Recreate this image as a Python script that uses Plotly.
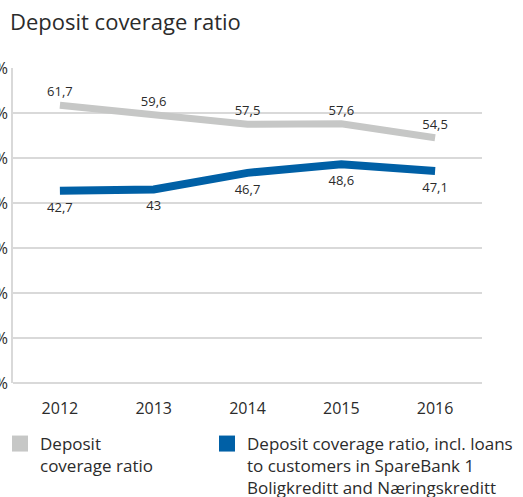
import plotly.graph_objects as go

years = ["2012", "2013", "2014", "2015", "2016"]
deposit_ratio = [61.7, 59.6, 57.5, 57.6, 54.5]
deposit_ratio_incl = [42.7, 43.0, 46.7, 48.6, 47.1]
name_a = "Deposit<br>coverage ratio"
name_b = "Deposit coverage ratio, incl. loans<br>to customers in SpareBank 1<br>Boligkreditt and Næringskreditt"

GRAY = "#c6c7c6"
BLUE = "#0060a6"
TXT = "#2b2b2b"
FONT = "Open Sans"

def fmt(v):
    s = ("%.1f" % v).rstrip("0").rstrip(".")
    return s.replace(".", ",")

fig = go.Figure()
fig.add_trace(go.Scatter(
    x=years, y=deposit_ratio, mode="lines+markers+text",
    line=dict(color=GRAY, width=7),
    marker=dict(size=8, color=GRAY, opacity=0),
    text=[fmt(v) for v in deposit_ratio], textposition="top center",
    textfont=dict(size=13, color=TXT, family=FONT),
    showlegend=False, hoverinfo="skip"))
fig.add_trace(go.Scatter(
    x=years, y=deposit_ratio_incl, mode="lines+markers+text",
    line=dict(color=BLUE, width=8),
    marker=dict(size=16, color=BLUE, opacity=0),
    text=[fmt(v) for v in deposit_ratio_incl], textposition="bottom center",
    textfont=dict(size=13, color=TXT, family=FONT),
    showlegend=False, hoverinfo="skip"))
# legend entries (square swatches)
fig.add_trace(go.Scatter(x=[None], y=[None], mode="markers", name=name_a, legend="legend",
                         marker=dict(symbol="square", size=17, color=GRAY)))
fig.add_trace(go.Scatter(x=[None], y=[None], mode="markers", name=name_b, legend="legend2",
                         marker=dict(symbol="square", size=17, color=BLUE)))

leg_common = dict(xref="container", yref="paper", xanchor="left", yanchor="top",
                  font=dict(size=17, color=TXT, family=FONT), valign="top",
                  bgcolor="rgba(0,0,0,0)", borderwidth=0)

fig.update_layout(
    template="none",
    width=523, height=497,
    margin=dict(l=13, r=41, t=68, b=114, autoexpand=False),
    paper_bgcolor="white", plot_bgcolor="white",
    font=dict(family=FONT, color=TXT),
    title=dict(text="Deposit coverage ratio", xref="container", yref="container",
               x=10/523, xanchor="left", y=1-22/497, yanchor="middle",
               font=dict(size=22, color=TXT, family=FONT)),
    xaxis=dict(type="category", range=[-0.5, 4.5], showgrid=False, zeroline=False,
               showline=False, ticks="", tickfont=dict(size=16, color=TXT),
               ticklabelstandoff=14, automargin=False),
    yaxis=dict(range=[0, 70], dtick=10, ticksuffix=" %", showgrid=True,
               gridcolor="#d9d9d9", gridwidth=1.5, zeroline=True, zerolinecolor="#d9d9d9",
               zerolinewidth=1.5, showline=True, linecolor="#d9d9d9", linewidth=1.5,
               ticks="", tickfont=dict(size=16, color=TXT), automargin=False),
    legend=dict(x=0, y=(383-426)/315, **leg_common),
    legend2=dict(x=207/523, y=(383-426)/315, **leg_common),
    showlegend=True,
)
fig.write_html("out.html")
